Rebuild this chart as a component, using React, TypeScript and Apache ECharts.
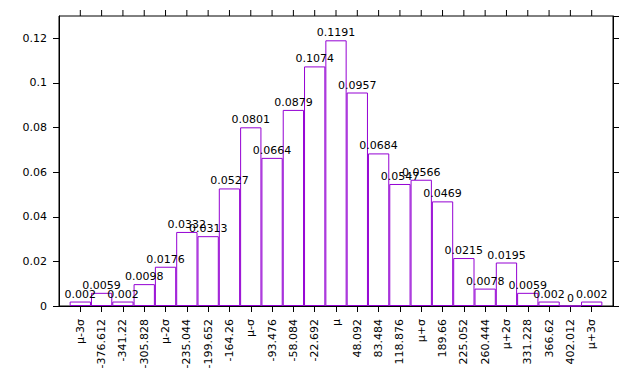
import React, { useEffect, useRef } from "react";
import * as echarts from "echarts";

const categories = [
  "μ-3σ", "-376.612", "-341.22", "-305.828", "μ-2σ", "-235.044", "-199.652", "-164.26",
  "μ-σ", "-93.476", "-58.084", "-22.692", "μ", "48.092", "83.484", "118.876",
  "μ+σ", "189.66", "225.052", "260.444", "μ+2σ", "331.228", "366.62", "402.012", "μ+3σ",
];
const frequencies = [
  0.002, 0.0059, 0.002, 0.0098, 0.0176, 0.0332, 0.0313, 0.0527,
  0.0801, 0.0664, 0.0879, 0.1074, 0.1191, 0.0957, 0.0684, 0.0547,
  0.0566, 0.0469, 0.0215, 0.0078, 0.0195, 0.0059, 0.002, 0, 0.002,
];
const yTicks = [0, 0.02, 0.04, 0.06, 0.08, 0.1, 0.12];
const yMax = 0.13;

export default function App() {
  const ref = useRef<HTMLDivElement>(null);
  useEffect(() => {
    document.body.style.margin = "0";
    const chart = echarts.init(ref.current!, null, { renderer: "svg" });
    const cats = ["", ...categories, ""];
    const data = [null, ...frequencies, null];
    const font = "DejaVu Sans";
    const last = cats.length - 1;
    const tickFn = (i: number) => i > 0 && i < last;
    const topTickData = cats
      .map((c, i) => (c === "" ? null : [i, yMax]))
      .filter((d) => d !== null);
    chart.setOption({
      animation: false,
      backgroundColor: "#fff",
      grid: { left: 59, right: 27, top: 16, bottom: 78, show: true, borderColor: "#000", borderWidth: 1, backgroundColor: "transparent" },
      xAxis: [
        {
          type: "category",
          position: "bottom",
          data: cats,
          boundaryGap: false,
          axisLine: { show: true, onZero: false, lineStyle: { color: "#000", width: 1 } },
          axisTick: { show: true, inside: false, length: 6, interval: tickFn, lineStyle: { color: "#000" } },
          splitLine: { show: false },
          axisLabel: {
            interval: 0,
            rotate: 90,
            margin: 13,
            color: "#000",
            fontFamily: font,
            fontSize: 11,
          },
        },
      ],
      yAxis: [
        {
          type: "value",
          position: "left",
          min: 0,
          max: yMax,
          interval: 0.02,
          axisLine: { show: true, onZero: false, lineStyle: { color: "#000", width: 1 } },
          axisTick: { show: true, inside: false, length: 6, lineStyle: { color: "#000" } },
          splitLine: { show: false },
          axisLabel: {
            margin: 12,
            color: "#000",
            fontFamily: font,
            fontSize: 11,
            showMaxLabel: false,
            formatter: (v: number) => {
              const t = yTicks.find((y) => Math.abs(y - v) < 1e-9);
              return t === undefined ? "" : String(t);
            },
          },
        },
        {
          type: "value",
          position: "right",
          min: 0,
          max: yMax,
          interval: 0.02,
          axisLine: { show: true, onZero: false, lineStyle: { color: "#000", width: 1 } },
          axisTick: { show: true, inside: false, length: 6, lineStyle: { color: "#000" } },
          splitLine: { show: false },
          axisLabel: { show: false },
        },
      ],
      series: [
        {
          type: "bar",
          data,
          barWidth: "100%",
          itemStyle: { color: "rgba(255,255,255,0)", borderColor: "#9400d3", borderWidth: 1 },
          label: {
            show: true,
            position: "top",
            distance: 2,
            color: "#000",
            fontFamily: font,
            fontSize: 11,
            formatter: (p: any) => String(p.value),
          },
        },
        {
          // mirrored tick marks along the top border, placed by the axes' own scales
          type: "custom",
          clip: false,
          silent: true,
          z: 10,
          data: topTickData,
          encode: { x: 0, y: 1 },
          renderItem: (_params: any, api: any) => {
            const p = api.coord([api.value(0), api.value(1)]);
            return {
              type: "line",
              shape: { x1: p[0], y1: p[1], x2: p[0], y2: p[1] - 6 },
              style: { stroke: "#000", lineWidth: 1 },
            };
          },
        },
      ],
    });
    return () => chart.dispose();
  }, []);
  return <div ref={ref} style={{ width: 640, height: 384 }} />;
}
